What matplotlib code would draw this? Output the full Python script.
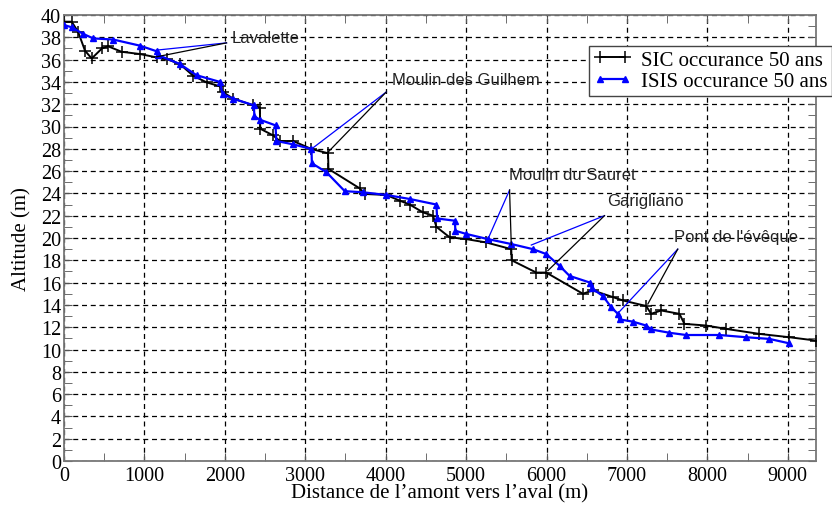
import numpy as np
import matplotlib.pyplot as plt
from matplotlib.ticker import MultipleLocator

# SIC, 50-year flood line (black)
sic_x = [0, 95, 175, 261, 344, 472, 547, 716, 944, 1151, 1276, 1441, 1606, 1773, 1938,
         1979, 2103, 2352, 2435, 2440, 2600, 2683, 2849, 3077, 3283, 3288, 3677, 3739,
         4008, 4174, 4298, 4463, 4588, 4630, 4795, 5003, 5250, 5561, 5566, 5872, 5996,
         6451, 6575, 6824, 6948, 7238, 7300, 7424, 7652, 7714, 7983, 8232, 8646, 9019, 9350]
sic_y = [39.4, 39.4, 38.5, 36.8, 36.1, 37.0, 37.2, 36.7, 36.5, 36.2, 36.05, 35.6, 34.55, 33.96, 33.6,
         33.07, 32.5, 31.9, 31.7, 29.8, 29.2, 28.7, 28.7, 27.98, 27.6, 26.2, 24.45, 23.95,
         23.86, 23.35, 23.0, 22.3, 22.0, 21.0, 20.06, 19.9, 19.6, 19.0, 18.0, 16.9, 16.9,
         15.0, 15.3, 14.7, 14.4, 13.9, 13.2, 13.5, 13.2, 12.3, 12.15, 11.85, 11.4, 11.1, 10.8]

# ISIS, 50-year flood line (blue)
isis_x = [0, 95, 240, 364, 612, 944, 1151, 1172, 1441, 1648, 1938, 1971, 2103, 2360, 2368,
          2440, 2630, 2640, 2849, 3077, 3082, 3263, 3491, 3718, 4008, 4298, 4630, 4640, 4860,
          4866, 5003, 5271, 5561, 5830, 5996, 6162, 6286, 6540, 6560, 6700, 6803, 6886, 6907,
          7072, 7238, 7300, 7528, 7735, 8149, 8481, 8770, 9019]
isis_y = [39.1, 38.9, 38.3, 37.9, 37.8, 37.25, 36.75, 36.4, 35.6, 34.6, 34.0, 32.9, 32.5, 31.9, 30.9,
          30.6, 30.1, 28.7, 28.4, 27.98, 26.7, 25.9, 24.2, 24.1, 23.86, 23.5, 23.0, 21.75, 21.55,
          20.65, 20.36, 19.9, 19.46, 19.0, 18.56, 17.5, 16.6, 16.0, 15.5, 14.8, 13.8, 13.2, 12.7,
          12.5, 12.15, 11.8, 11.5, 11.3, 11.3, 11.1, 10.95, 10.55]

# structures: label, point where the leader lines meet, blue target, black target
labels = ["Lavalette", "Moulin des Guilhem", "Moulin du Sauret", "Garigliano", "Pont de l'évêque"]
label_xy = [(2021, 37.5), (4008, 33.1), (5540, 24.3), (6720, 22.0), (7631, 19.0)]
label_offset = [(3.6, 4.1), (4.3, 9.1), (-0.7, 11.3), (2.2, 10.6), (-2.4, 9.0)]
blue_target = [(1151, 36.85), (3077, 27.98), (5271, 19.9), (5810, 19.37), (6907, 13.4)]
black_target = [(1151, 36.25), (3283, 27.7), (5561, 19.4), (6016, 17.07), (7259, 14.08)]

plt.rcParams['font.family'] = ['Liberation Serif', 'DejaVu Serif']

fig = plt.figure(figsize=(8.32, 5.10), dpi=100)
ax = fig.add_axes([64/832, 1-462/510, 752/832, 446/510])

ax.plot(sic_x, sic_y, color="black", lw=1.4, marker="+", ms=8, mew=1.1,
        label="SIC occurance 50 ans", zorder=3)
ax.plot(isis_x, isis_y, color="#0000ff", lw=1.6, marker="^", ms=4,
        label="ISIS occurance 50 ans", zorder=4)

for i in range(len(labels)):
    lx, ly = label_xy[i]
    ax.plot([lx, blue_target[i][0]], [ly, blue_target[i][1]], color="#0000ff", lw=0.9, zorder=5)
    ax.plot([lx, black_target[i][0]], [ly, black_target[i][1]], color="black", lw=0.9, zorder=5)
    ax.annotate(labels[i], (lx, ly), xytext=label_offset[i], textcoords="offset points",
                ha="left", va="center", fontsize=12, family=["Liberation Sans", "DejaVu Sans"],
                color="#222222", zorder=6)

ax.set_xlim(0, 9350)
ax.set_ylim(0, 40)
ax.xaxis.set_major_locator(MultipleLocator(1000))
ax.xaxis.set_minor_locator(MultipleLocator(500))
ax.yaxis.set_major_locator(MultipleLocator(2))
ax.yaxis.set_minor_locator(MultipleLocator(1))
ax.tick_params(which="both", direction="in", top=True, right=True, labelsize=14.5, pad=2)
ax.tick_params(axis="x", pad=3.5)
ax.tick_params(which="major", length=6, color="#555555")
ax.tick_params(which="minor", length=6, color="#555555")
ax.grid(True, which="major", color="black", linestyle=(0, (4, 3)), lw=0.9)
for s in ax.spines.values():
    s.set_color("#777777")
    s.set_linewidth(1.3)

ax.set_xlabel("Distance de l’amont vers l’aval (m)", fontsize=15, labelpad=-1)
ax.set_ylabel("Altitude (m)", fontsize=15, labelpad=7)

leg = ax.legend(loc="upper right", bbox_to_anchor=(1.0, 1-47/510), bbox_transform=fig.transFigure,
                fontsize=15, numpoints=2, handlelength=1.8, fancybox=False, framealpha=1,
                edgecolor="#444444", borderaxespad=0, borderpad=0.2, labelspacing=0.1,
                handletextpad=0.5)
leg.get_frame().set_linewidth(1.0)

fig.savefig("out.png", dpi=100)
